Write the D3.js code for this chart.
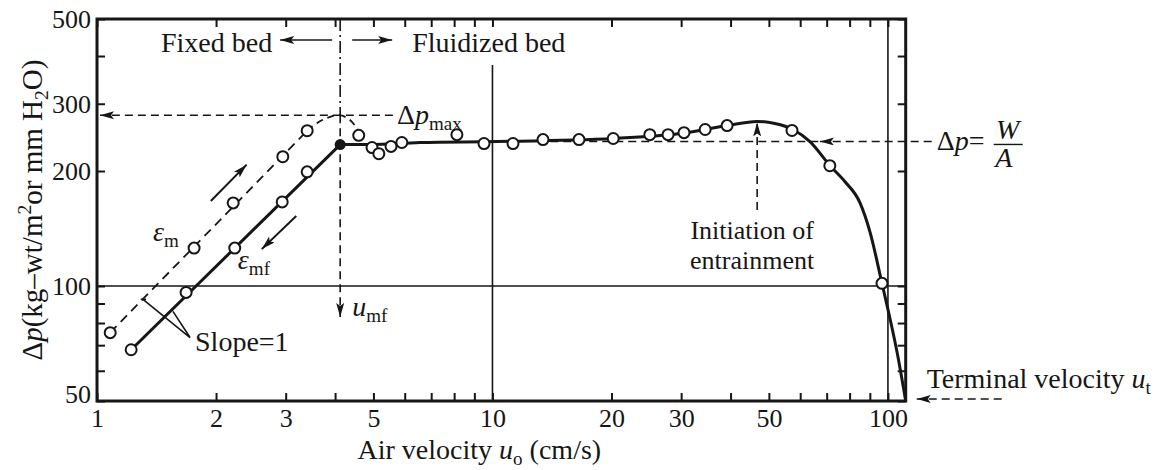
<!DOCTYPE html>
<html>
<head>
<meta charset="utf-8">
<script src="https://cdn.jsdelivr.net/npm/d3@7"></script>
<style>
  body { margin: 0; background: #fff; }
  svg { display: block; }
  text { font-family: "Liberation Serif", "Tinos", "Times New Roman", "DejaVu Serif", "Noto Serif", serif; }
</style>
</head>
<body>
<svg id="chart" width="1176" height="470"></svg>
<script>
// increasing air velocity (epsilon_m, dashed)
const upU = [1.08, 1.76, 2.21, 2.95, 3.40]
const upDp = [75.5, 125.7, 165, 218, 255]
const upArcU = [3.40, 3.62, 3.84, 4.07, 4.31, 4.49, 4.62]
const upArcDp = [255, 268, 276, 280, 274.6, 263, 250.7]

// decreasing air velocity (epsilon_mf, solid)
const downU = [1.22, 1.68, 2.23, 2.94, 3.40]
const downDp = [68.1, 96.2, 125.7, 166, 199]
const umf = 4.12
const dpMf = 234.5
const dpMax = 280

// fluidized bed points
const fluidU = [4.59, 4.96, 5.16, 5.54, 5.90, 8.13, 9.52, 11.27, 13.42, 16.55, 20.2, 25.0, 27.8, 30.5, 34.5, 39.2, 57.2, 71.3, 96.6]
const fluidDp = [248, 230.4, 222, 232, 237.5, 249, 236, 236, 241.7, 241.7, 243.3, 249, 249, 252, 256.9, 263, 255.4, 206.5, 101.6]

// fluidized curve
const curveU = [4.12, 4.90, 6.56, 10.3, 20.2, 29.8, 39.2, 46.7, 51.8, 57.5, 63.5, 71.4, 77.9, 85.0, 90.1, 96.6, 100, 106.0, 110.9]
const curveDp = [234.5, 234.5, 237.5, 238.9, 243.3, 250.7, 263, 269.7, 266.4, 256.9, 238.8, 206.5, 187.5, 165.1, 138.4, 101.6, 86.9, 65.3, 50]

const ut = 110.9
const uEntrain = 46.7
const dpEntrain = 269.7
const dpWA = 239
const uWAcross = 67.3

const xTicks = [1, 2, 3, 4, 5, 6, 7, 8, 9, 10, 20, 30, 40, 50, 60, 70, 80, 90, 100]
const xLabels = [1, 2, 3, 5, 10, 20, 30, 50, 100]
const yTicks = [50, 60, 70, 80, 90, 100, 200, 300, 400, 500]
const yLabels = [50, 100, 200, 300, 500]

const serif = '"Liberation Serif", "Tinos", "Times New Roman", "DejaVu Serif", "Noto Serif", serif'
const svg = d3.select("#chart")
const x = d3.scaleLog().domain([1, ut]).range([97, 905.7])
const y = d3.scaleLog().domain([50, 500]).range([401, 19])
const ink = "#161616"
const fs = 28

const defs = svg.append("defs")
defs
  .append("marker")
  .attr("id", "arr")
  .attr("viewBox", "0 0 14 8")
  .attr("refX", 14)
  .attr("refY", 4)
  .attr("markerWidth", 14)
  .attr("markerHeight", 8)
  .attr("markerUnits", "userSpaceOnUse")
  .attr("orient", "auto")
  .append("path")
  .attr("d", "M0,0 L14,4 L0,8 L3,4 Z")
  .attr("fill", ink)

function richText(g, px, py, parts, size, anchor) {
  const t = g
    .append("text")
    .attr("x", px)
    .attr("y", py)
    .attr("font-family", serif)
    .attr("font-size", size)
    .attr("fill", ink)
    .attr("text-anchor", anchor || "start")
  let shift = 0
  parts.forEach((p) => {
    const s = t.append("tspan").text(p.t)
    let target = 0
    if (p.sub) target = size * 0.22
    if (p.sup) target = -size * 0.38
    s.attr("dy", target - shift)
    shift = target
    if (p.sub || p.sup) s.attr("font-size", size * 0.68)
    if (p.i) s.attr("font-style", "italic")
  })
  return t
}

// grid lines
svg
  .append("line")
  .attr("x1", x(1)).attr("x2", x(ut))
  .attr("y1", y(100)).attr("y2", y(100))
  .attr("stroke", ink).attr("stroke-width", 1.6)
svg
  .append("line")
  .attr("x1", x(10)).attr("x2", x(10))
  .attr("y1", y(379)).attr("y2", y(50))
  .attr("stroke", ink).attr("stroke-width", 1.6)
svg
  .append("line")
  .attr("x1", x(100)).attr("x2", x(100))
  .attr("y1", y(500)).attr("y2", y(50))
  .attr("stroke", ink).attr("stroke-width", 1.6)

// axes (inward ticks on four sides)
const axB = svg
  .append("g")
  .attr("transform", `translate(0,${y(50)})`)
  .call(
    d3.axisBottom(x).tickValues(xTicks).tickSize(-8).tickPadding(8)
      .tickFormat((d) => (xLabels.includes(d) ? d : ""))
  )
const axT = svg
  .append("g")
  .attr("transform", `translate(0,${y(500)})`)
  .call(d3.axisTop(x).tickValues(xTicks).tickSize(-8).tickFormat(""))
const axL = svg
  .append("g")
  .attr("transform", `translate(${x(1)},0)`)
  .call(
    d3.axisLeft(y).tickValues(yTicks).tickSize(-8).tickPadding(6)
      .tickFormat((d) => (yLabels.includes(d) ? d : ""))
  )
const axR = svg
  .append("g")
  .attr("transform", `translate(${x(ut)},0)`)
  .call(d3.axisRight(y).tickValues(yTicks).tickSize(-8).tickFormat(""))

;[axB, axT, axL, axR].forEach((a) => {
  a.attr("font-family", serif)
  a.select(".domain").remove()
  a.selectAll(".tick line").attr("stroke", ink).attr("stroke-width", 2)
  a.selectAll("text")
    .attr("font-family", serif)
    .attr("font-size", 26)
    .attr("fill", ink)
})
axL.selectAll(".tick text").filter((d) => d === 50).attr("dy", "0.05em")

svg
  .append("rect")
  .attr("x", x(1))
  .attr("y", y(500))
  .attr("width", x(ut) - x(1))
  .attr("height", y(50) - y(500))
  .attr("fill", "none")
  .attr("stroke", ink)
  .attr("stroke-width", 3)

// guide lines at u_mf
svg
  .append("line")
  .attr("x1", x(umf)).attr("x2", x(umf))
  .attr("y1", y(500)).attr("y2", y(dpMax))
  .attr("stroke", ink).attr("stroke-width", 1.6)
  .attr("stroke-dasharray", "12,4,2,4")
svg
  .append("line")
  .attr("x1", x(umf)).attr("x2", x(umf))
  .attr("y1", y(dpMax)).attr("y2", y(83))
  .attr("stroke", ink).attr("stroke-width", 1.6)
  .attr("stroke-dasharray", "8,5")
  .attr("marker-end", "url(#arr)")

// Δp max guide
svg
  .append("line")
  .attr("x1", x(5.6)).attr("x2", x(1) + 3)
  .attr("y1", y(dpMax)).attr("y2", y(dpMax))
  .attr("stroke", ink).attr("stroke-width", 1.6)
  .attr("stroke-dasharray", "8,5")
  .attr("marker-end", "url(#arr)")

// W/A guide
svg
  .append("line")
  .attr("x1", x(14)).attr("x2", x(uWAcross))
  .attr("y1", y(dpWA)).attr("y2", y(dpWA))
  .attr("stroke", ink).attr("stroke-width", 1.6)
  .attr("stroke-dasharray", "8,5")
svg
  .append("line")
  .attr("x1", x(ut) + 26).attr("x2", x(uWAcross))
  .attr("y1", y(dpWA)).attr("y2", y(dpWA))
  .attr("stroke", ink).attr("stroke-width", 1.6)
  .attr("stroke-dasharray", "8,5")
  .attr("marker-end", "url(#arr)")

// entrainment arrow
svg
  .append("line")
  .attr("x1", x(uEntrain)).attr("x2", x(uEntrain))
  .attr("y1", y(158)).attr("y2", y(dpEntrain) + 1)
  .attr("stroke", ink).attr("stroke-width", 1.6)
  .attr("stroke-dasharray", "8,5")
  .attr("marker-end", "url(#arr)")

// terminal velocity arrow
svg
  .append("line")
  .attr("x1", x(ut) + 96).attr("x2", x(ut) + 11)
  .attr("y1", y(50) - 2).attr("y2", y(50) - 2)
  .attr("stroke", ink).attr("stroke-width", 1.6)
  .attr("stroke-dasharray", "8,5")
  .attr("marker-end", "url(#arr)")

// curves
const line = d3.line().x((d) => x(d[0])).y((d) => y(d[1]))
svg
  .append("path")
  .attr("d", line([[upU[0], upDp[0]], [upU[upU.length - 1], upDp[upDp.length - 1]]]))
  .attr("fill", "none").attr("stroke", ink).attr("stroke-width", 1.8)
  .attr("stroke-dasharray", "9,6")
svg
  .append("path")
  .attr("d", line.curve(d3.curveMonotoneX)(d3.zip(upArcU, upArcDp)))
  .attr("fill", "none").attr("stroke", ink).attr("stroke-width", 1.8)
  .attr("stroke-dasharray", "7,5")
line.curve(d3.curveLinear)
svg
  .append("path")
  .attr("d", line([[downU[0], downDp[0]], [umf, dpMf]]))
  .attr("fill", "none").attr("stroke", ink).attr("stroke-width", 3)
svg
  .append("path")
  .attr("d", line.curve(d3.curveMonotoneX)(d3.zip(curveU, curveDp)))
  .attr("fill", "none").attr("stroke", ink).attr("stroke-width", 3)
line.curve(d3.curveLinear)

// points
const pts = d3.zip(upU, upDp).concat(d3.zip(downU, downDp), d3.zip(fluidU, fluidDp))
svg
  .append("g")
  .selectAll("circle")
  .data(pts)
  .join("circle")
  .attr("cx", (d) => x(d[0]))
  .attr("cy", (d) => y(d[1]))
  .attr("r", 5.5)
  .attr("fill", "#fff")
  .attr("stroke", ink)
  .attr("stroke-width", 2)
svg
  .append("circle")
  .attr("cx", x(umf))
  .attr("cy", y(dpMf))
  .attr("r", 5.5)
  .attr("fill", ink)

// direction arrows along the bed line
svg
  .append("line")
  .attr("x1", x(1.94)).attr("y1", y(167))
  .attr("x2", x(2.39)).attr("y2", y(207.8))
  .attr("stroke", ink).attr("stroke-width", 2)
  .attr("marker-end", "url(#arr)")
svg
  .append("line")
  .attr("x1", x(3.19)).attr("y1", y(152.5))
  .attr("x2", x(2.61)).attr("y2", y(124.9))
  .attr("stroke", ink).attr("stroke-width", 2)
  .attr("marker-end", "url(#arr)")

// slope bracket
svg
  .append("path")
  .attr("d", line([[1.29, 92.3], [1.33, 92.3]]))
  .attr("stroke", ink).attr("stroke-width", 1.6)
svg
  .append("path")
  .attr("d", line([[1.307, 92.3], [1.719, 73.3], [1.556, 85.8]]))
  .attr("fill", "none").attr("stroke", ink).attr("stroke-width", 1.6)

// text
const g = svg.append("g")
richText(g, x(umf) - 68, 52, [{ t: "Fixed bed" }], fs, "end")
richText(g, x(umf) + 72, 52, [{ t: "Fluidized bed" }], fs)
svg.append("line")
  .attr("x1", x(umf) - 8).attr("x2", x(umf) - 60)
  .attr("y1", 40).attr("y2", 40)
  .attr("stroke", ink).attr("stroke-width", 1.6)
  .attr("marker-end", "url(#arr)")
svg.append("line")
  .attr("x1", x(umf) + 12).attr("x2", x(umf) + 52)
  .attr("y1", 40).attr("y2", 40)
  .attr("stroke", ink).attr("stroke-width", 1.6)
  .attr("marker-end", "url(#arr)")

richText(g, x(5.6) + 4, y(dpMax) + 9, [{ t: "Δ" }, { t: "p", i: true }, { t: "max", sub: true }], fs)
richText(g, x(umf) + 12, y(83) - 1, [{ t: "u", i: true }, { t: "mf", sub: true }], fs)
richText(g, x(1.386), y(131), [{ t: "ε", i: true }, { t: "m", sub: true }], fs)
richText(g, x(2.27), y(110.6), [{ t: "ε", i: true }, { t: "mf", sub: true }], fs)
richText(g, x(1.719) + 5, y(73.3) + 13, [{ t: "Slope=1" }], fs)

richText(g, x(uEntrain) - 5, y(151.6) + 22, [{ t: "Initiation of" }], 26, "middle")
richText(g, x(uEntrain) - 5, y(151.6) + 52, [{ t: "entrainment" }], 26, "middle")

richText(g, x(ut) + 31, y(dpWA) + 9, [{ t: "Δ" }, { t: "p", i: true }, { t: "=" }], fs)
richText(g, x(ut) + 102, y(dpWA) - 2, [{ t: "W", i: true }], fs, "middle")
richText(g, x(ut) + 98, y(dpWA) + 26, [{ t: "A", i: true }], fs, "middle")
svg.append("line")
  .attr("x1", x(ut) + 88).attr("x2", x(ut) + 117)
  .attr("y1", y(dpWA) + 3).attr("y2", y(dpWA) + 3)
  .attr("stroke", ink).attr("stroke-width", 1.4)

richText(g, x(ut) + 21, y(50) - 13, [{ t: "Terminal velocity " }, { t: "u", i: true }, { t: "t", sub: true }], fs)

richText(g, (x(1) + x(ut)) / 2 - 22, 459,
  [{ t: "Air velocity " }, { t: "u", i: true }, { t: "o", sub: true }, { t: " (cm/s)" }], fs, "middle")

const yl = richText(g, 0, 0,
  [{ t: "Δ" }, { t: "p", i: true }, { t: "(kg–wt/m" }, { t: "2", sup: true }, { t: "or mm H" }, { t: "2", sub: true }, { t: "O)" }], 29, "middle")
yl.attr("transform", `translate(42,${(y(500) + y(50)) / 2}) rotate(-90)`)
</script>
</body>
</html>
